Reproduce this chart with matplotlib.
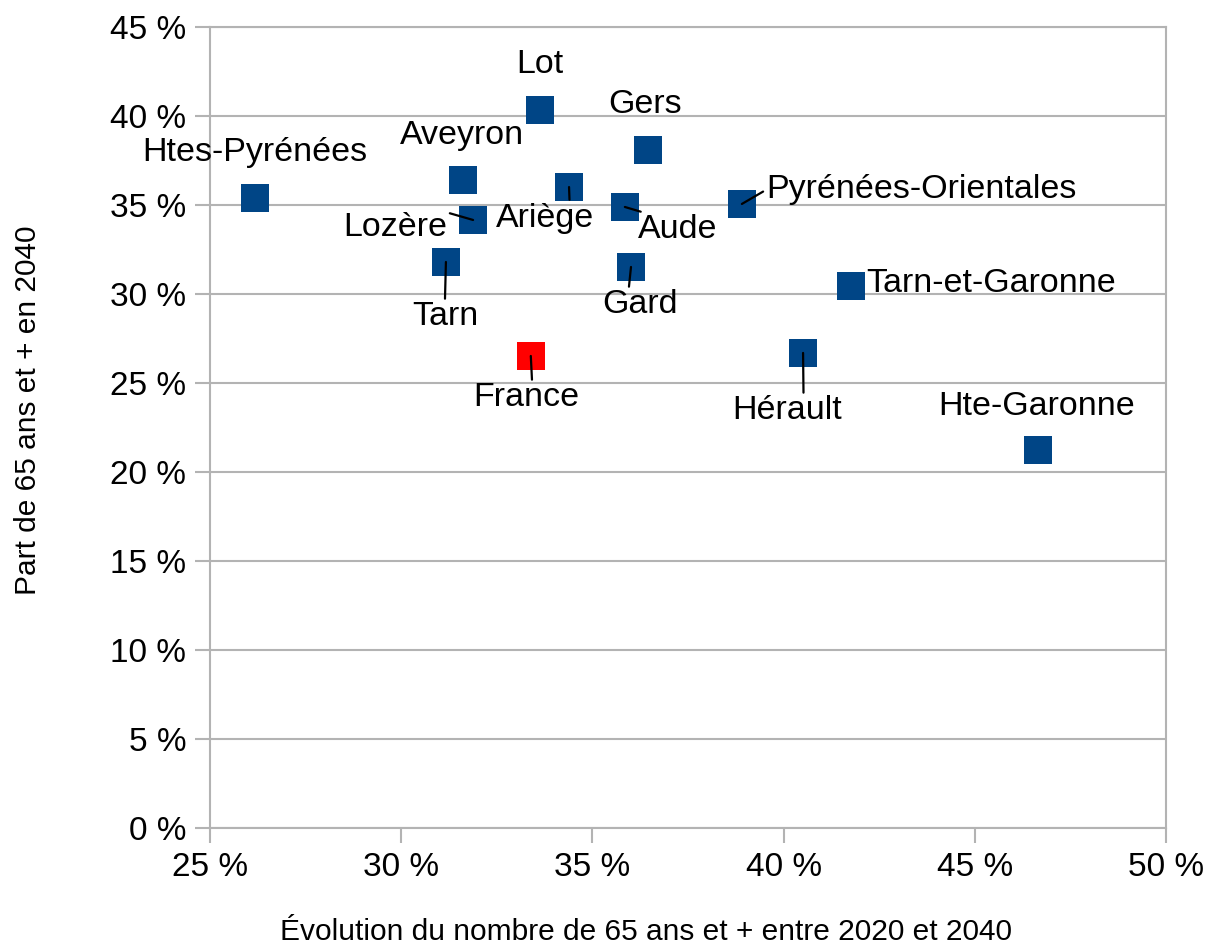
import matplotlib.pyplot as plt
from matplotlib.ticker import FuncFormatter

# données (en %)
noms = ["Htes-Pyrénées", "Lot", "Gers", "Aveyron", "Lozère", "Tarn", "Ariège",
        "Aude", "Gard", "Pyrénées-Orientales", "Tarn-et-Garonne", "Hérault",
        "Hte-Garonne", "France"]
evolution = [26.18, 33.63, 36.45, 31.62, 31.88, 31.17, 34.39,
             35.85, 36.01, 38.91, 41.76, 40.51, 46.65, 33.39]
part_2040 = [35.39, 40.34, 38.09, 36.40, 34.16, 31.80, 36.01,
             34.89, 31.52, 35.06, 30.45, 26.69, 21.24, 26.52]
couleurs = ["#004586"] * 13 + ["#ff0000"]

x_ticks = [25, 30, 35, 40, 45, 50]
y_ticks = [0, 5, 10, 15, 20, 25, 30, 35, 40, 45]

# placement des étiquettes : décalage en pixels (dx, dy vers le bas), alignement, trait de rappel
etiquettes = {
    "Htes-Pyrénées": (0, -46, "center", None),
    "Lot": (0, -45, "center", None),
    "Gers": (-3, -46, "center", None),
    "Aveyron": (-1, -45, "center", None),
    "Lozère": (-78, 8, "center", (1, 1)),
    "Tarn": (-1, 55, "center", (0.5, 1)),
    "Ariège": (-24, 31, "center", (0.75, 1)),
    "Aude": (53, 23, "center", (0.15, 1)),
    "Gard": (9, 38, "center", (0.35, 1)),
    "Pyrénées-Orientales": (24, -14, "left", (0, 0.5)),
    "Tarn-et-Garonne": (15, -3, "left", None),
    "Hérault": (-16, 58, "center", (0.65, 1)),
    "Hte-Garonne": (-1, -43, "center", None),
    "France": (-4, 42, "center", (0.55, 1)),
}

gris = "#b3b3b3"
police = ["Liberation Sans", "DejaVu Sans"]

fig = plt.figure(figsize=(12.11, 9.51), dpi=100)
ax = fig.add_axes([0.1734, 0.1293, 0.7894, 0.8423])

ax.scatter(evolution, part_2040, marker="s", s=400, c=couleurs, linewidths=0, zorder=3)

for nom, x, y in zip(noms, evolution, part_2040):
    dx, dy, ha, rel = etiquettes[nom]
    props = None
    if rel is not None:
        props = dict(arrowstyle="-", color="black", lw=1.6, shrinkA=0, shrinkB=0, relpos=rel)
    ax.annotate(nom, xy=(x, y), xytext=(dx * 0.72, -dy * 0.72), textcoords="offset points",
                ha=ha, va="center", fontsize=24.5, family=police, color="black",
                arrowprops=props, zorder=5)

ax.set_xlim(25, 50)
ax.set_ylim(0, 45)
ax.set_xticks(x_ticks)
ax.set_yticks(y_ticks)
fmt = FuncFormatter(lambda v, p: f"{v:.0f} %")
ax.xaxis.set_major_formatter(fmt)
ax.yaxis.set_major_formatter(fmt)
for lab in ax.get_xticklabels() + ax.get_yticklabels():
    lab.set_family(police)
ax.tick_params(axis="both", labelsize=24, length=11, width=1.5, color=gris, pad=6)

ax.grid(axis="y", color=gris, lw=1.5)
ax.set_axisbelow(True)
for s in ax.spines.values():
    s.set_color(gris)
    s.set_linewidth(1.5)

ax.set_xlabel("Évolution du nombre de 65 ans et + entre 2020 et 2040", fontsize=21.5,
              family=police)
ax.set_ylabel("Part de 65 ans et + en 2040", fontsize=21.5, family=police)
ax.xaxis.set_label_coords(0.456, -0.112)
ax.yaxis.set_label_coords(-0.176, 0.522)

fig.savefig("out.png", dpi=100)
